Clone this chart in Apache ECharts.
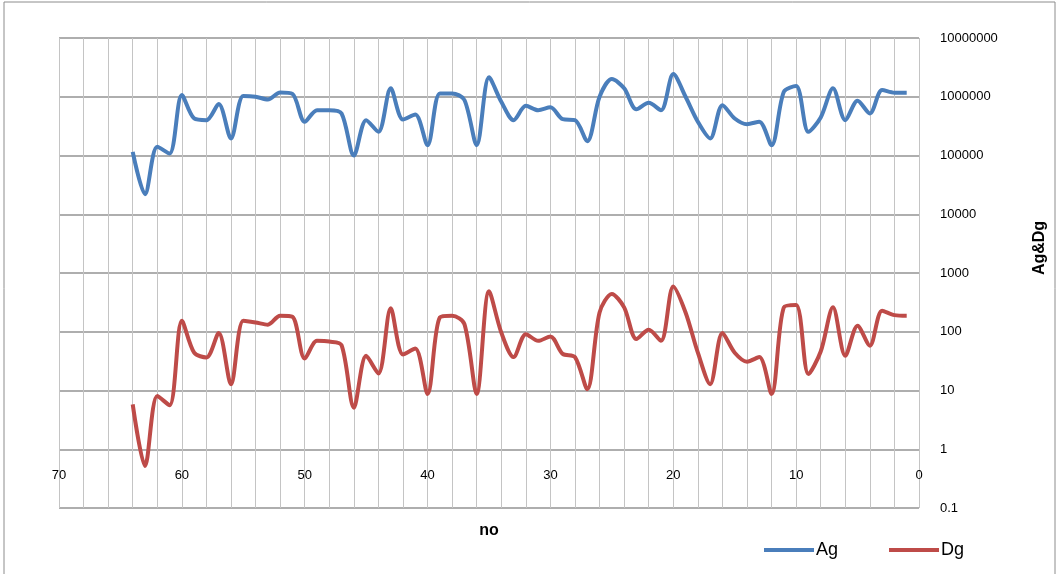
<!DOCTYPE html>
<html>
<head>
<meta charset="utf-8">
<script src="https://cdn.jsdelivr.net/npm/echarts@6/dist/echarts.min.js"></script>
<style>
html,body{margin:0;padding:0;background:#fff;}
#chart{width:1060px;height:574px;}
</style>
</head>
<body>
<div id="chart"></div>
<script>
// sample numbers ("no")
const nos = [64,63,62,61,60,59,58,57,56,55,54,53,52,51,50,49,48,47,46,45,44,43,42,41,40,39,38,37,36,35,34,33,32,31,30,29,28,27,26,25,24,23,22,21,20,19,18,17,16,15,14,13,12,11,10,9,8,7,6,5,4,3,2,1];
// Ag values
const agValues = [115000,22000,141000,108000,1070000,427000,400000,750000,195000,1030000,1000000,900000,1180000,1120000,375000,590000,590000,520000,100000,400000,253000,1390000,410000,500000,150000,1140000,1140000,880000,150000,2140000,820000,400000,700000,590000,660000,415000,400000,175000,1000000,2000000,1390000,610000,790000,590000,2430000,1000000,375000,195000,720000,427000,342000,375000,150000,1220000,1520000,253000,445000,1390000,400000,855000,520000,1300000,1170000,1170000];
// Dg values
const dgValues = [5.8,0.52,8.1,5.6,154,44,36.5,95,12.8,154,144,132,187,180,35,70,68,59,5.1,39,19.5,250,41,52,8.7,176,187,135,8.7,487,97,37,91,70,83,42,37,10.5,213,440,260,75,108,70,590,213,44,12.8,95,44,31,37,8.7,260,285,19,46,260,39,127,58,228,192,187];
// axis ticks
const yTickLabels = ['0.1','1','10','100','1000','10000','100000','1000000','10000000'];
const seriesNames = ['Ag','Dg'];

const FONT = 'Liberation Sans, Arial, sans-serif';
const agData = nos.map((n,i)=>[n, agValues[i]]);
const dgData = nos.map((n,i)=>[n, dgValues[i]]);

const chart = echarts.init(document.getElementById('chart'), null, {renderer:'canvas'});
chart.setOption({
  animation:false,
  backgroundColor:'#ffffff',
  graphic:[{
    type:'rect', shape:{x:4,y:2,width:1051,height:600},
    style:{fill:'none', stroke:'#8c8c8c', lineWidth:1}, silent:true, z:-10
  }],
  grid:{left:59,right:141,top:38,bottom:66},
  legend:{
    data:seriesNames, left:759, top:536,
    itemWidth:50, itemHeight:4, itemGap:51, icon:'rect',
    textStyle:{fontFamily:FONT,fontSize:18,color:'#000', padding:[0,0,0,-3]}
  },
  xAxis:{
    type:'value', min:0, max:70, interval:2, inverse:true,
    name:'no', nameLocation:'middle', nameGap:15,
    nameTextStyle:{fontFamily:FONT,fontSize:16,fontWeight:'bold',color:'#000'},
    axisLine:{show:false}, axisTick:{show:false},
    axisLabel:{
      margin:-39, fontFamily:FONT, fontSize:13, color:'#000',
      formatter:v=> (v%10===0 ? String(v) : '')
    },
    splitLine:{show:true, lineStyle:{color:'#c4c4c4', width:1}}
  },
  yAxis:{
    type:'log', logBase:10, min:0.1, max:10000000, position:'right',
    name:'Ag&Dg', nameLocation:'middle', nameGap:113, nameRotate:90,
    nameTextStyle:{fontFamily:FONT,fontSize:16,fontWeight:'bold',color:'#000', padding:[0,0,0,50]},
    axisLine:{show:false}, axisTick:{show:false},
    axisLabel:{
      margin:21, fontFamily:FONT, fontSize:13, color:'#000',
      formatter:v=>{
        const e = Math.round(Math.log10(v));
        return yTickLabels[e+1] !== undefined ? yTickLabels[e+1] : String(v);
      }
    },
    splitLine:{show:true, lineStyle:{color:'#939393', width:1.5}}
  },
  series:[
    {name:'Ag', type:'line', data:agData, smooth:0.3, showSymbol:false, symbol:'none',
     color:'#4a7ebb', lineStyle:{width:4, color:'#4a7ebb'}},
    {name:'Dg', type:'line', data:dgData, smooth:0.3, showSymbol:false, symbol:'none',
     color:'#be4b48', lineStyle:{width:4, color:'#be4b48'}}
  ]
});
</script>
</body>
</html>
